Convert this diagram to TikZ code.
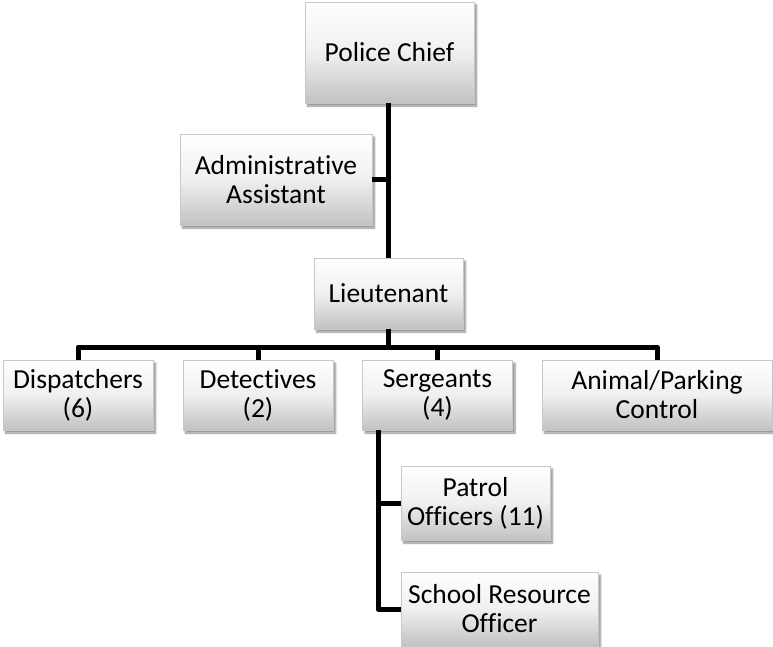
\documentclass[tikz,border=0pt]{standalone}
\usepackage{fontspec}
\setmainfont{Carlito}[Ligatures=NoCommon]
\usetikzlibrary{shadows.blur}
\begin{document}
\begin{tikzpicture}[x=1pt,y=-1pt,
  orgbox/.style={draw=black!22, line width=0.8pt,
    top color=white, bottom color=black!24, middle color=black!6,
    align=center, inner sep=0pt,
    font=\fontsize{27.5}{29}\selectfont,
    blur shadow={shadow xshift=2.5pt, shadow yshift=-3pt, shadow blur steps=6, shadow opacity=45}},
  link/.style={line width=5pt, line join=round, draw=black}]
\useasboundingbox (0,0) rectangle (773,647);

% boxes: centre, width, height
\node[orgbox, minimum width=169pt, minimum height=101pt] (chief) at (389.5,52.5) {Police Chief};
\node[orgbox, minimum width=192pt, minimum height=91pt] (admin) at (276,179.5) {Administrative\\Assistant};
\node[orgbox, minimum width=149pt, minimum height=71pt] (lt) at (388.5,293.5) {Lieutenant};
\node[orgbox, minimum width=150pt, minimum height=70pt] (disp) at (78,395) {Dispatchers\\(6)};
\node[orgbox, minimum width=150pt, minimum height=70pt] (det) at (258,395) {Detectives\\(2)};
\node[orgbox, minimum width=150pt, minimum height=70pt] (serg) at (437.5,395) {Sergeants\\(4)};
\node[orgbox, minimum width=230pt, minimum height=70pt] (anim) at (657,395) {Animal/Parking\\Control};
\node[orgbox, minimum width=149pt, minimum height=74pt] (patrol) at (475.5,503) {Patrol\\Officers (11)};
\node[orgbox, minimum width=197pt, minimum height=74pt] (sro) at (499.5,609) {School Resource\\Officer};

% connectors
\coordinate (trunk) at (388.5,0);
\coordinate (bar) at (0,347);
\coordinate (sergdrop) at (378,0);

\draw[link] (chief.south -| trunk) -- (lt.north -| trunk);
\draw[link] (admin.east) -- (admin.east -| trunk);
\draw[link] (lt.south -| trunk) -- (bar -| trunk);
\draw[link] (disp.north) -- (disp.north |- bar) -- (anim.north |- bar) -- (anim.north);
\draw[link] (det.north) -- (det.north |- bar);
\draw[link] (serg.north) -- (serg.north |- bar);
\draw[link] (serg.south -| sergdrop) -- (sro.west -| sergdrop) -- (sro.west);
\draw[link] (patrol.west -| sergdrop) -- (patrol.west);
\end{tikzpicture}
\end{document}
